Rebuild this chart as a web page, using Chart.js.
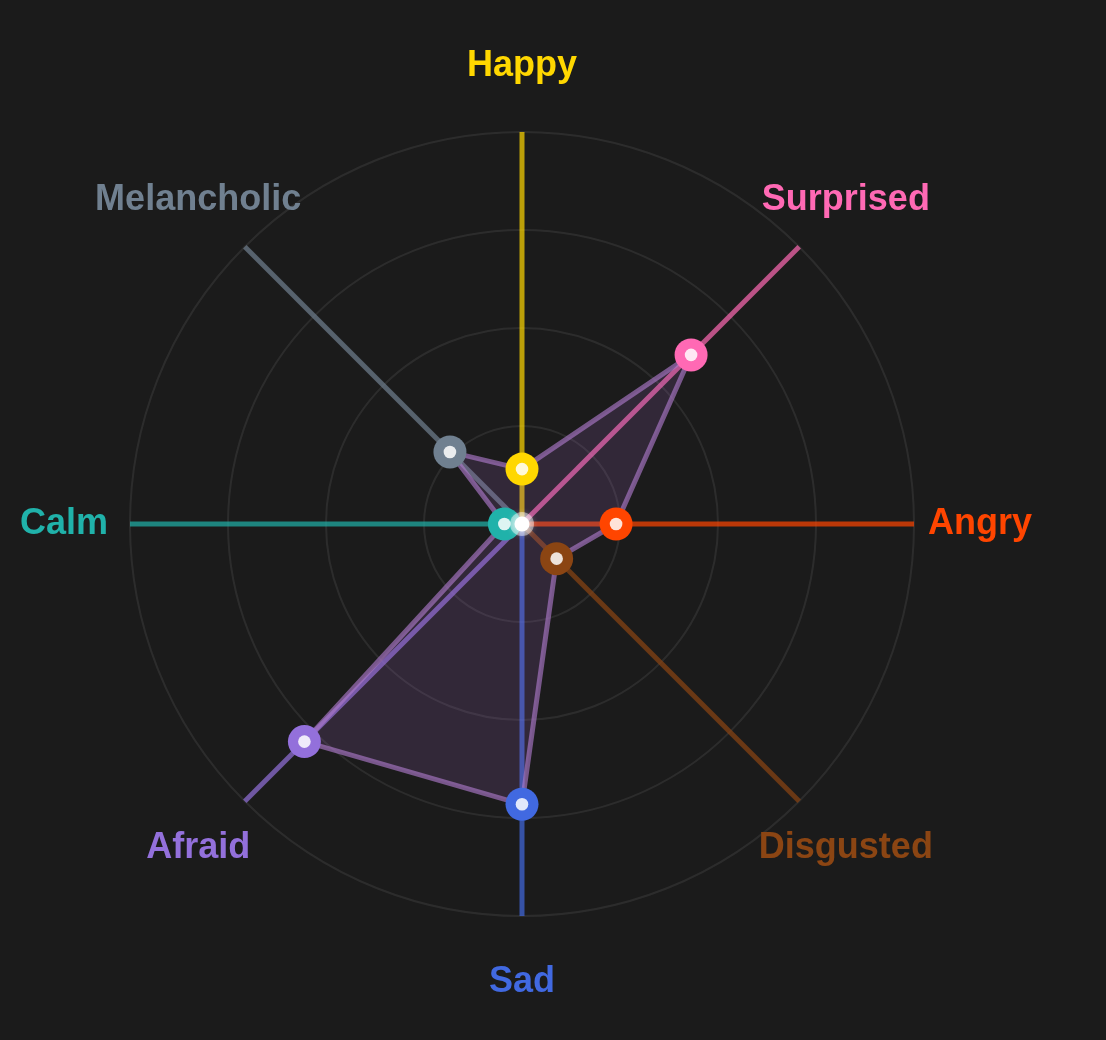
<!DOCTYPE html>
<html>
<head>
<meta charset="utf-8">
<script src="https://cdn.jsdelivr.net/npm/chart.js@4.4.1/dist/chart.umd.min.js"></script>
<style>
  html, body { margin: 0; padding: 0; background: #1b1b1b; }
  #wrap { width: 1106px; height: 1040px; position: relative; }
</style>
</head>
<body>
<div id="wrap"><canvas id="emociones"></canvas></div>
<script>
  // Datos
  const emociones = ['Happy', 'Surprised', 'Angry', 'Disgusted', 'Sad', 'Afraid', 'Calm', 'Melancholic'];
  const valores = [14, 61, 24, 12.5, 71.5, 78.5, 4.5, 26];
  const colores = ['#FFD700', '#FF69B4', '#FF4500', '#8B4513', '#4169E1', '#9370DB', '#20B2AA', '#708090'];
  const escalaMin = 0;
  const escalaMax = 100;
  const paso = 25;

  function conAlfa(hex, a) {
    const n = parseInt(hex.slice(1), 16);
    return `rgba(${(n >> 16) & 255}, ${(n >> 8) & 255}, ${n & 255}, ${a})`;
  }

  // Etiquetas centradas fuera del radar, con el color de cada eje
  const etiquetasPlugin = {
    id: 'etiquetas',
    afterDraw(chart) {
      const r = chart.scales.r;
      const ctx = chart.ctx;
      ctx.save();
      ctx.font = 'bold 36px "Liberation Sans", Arial, sans-serif';
      ctx.textAlign = 'center';
      ctx.textBaseline = 'middle';
      emociones.forEach((txt, i) => {
        const p = r.getPointPosition(i, r.drawingArea + 66);
        ctx.fillStyle = colores[i];
        ctx.fillText(txt, p.x, p.y);
      });
      ctx.restore();
    }
  };

  // Punto blanco brillante en el centro
  const centroPlugin = {
    id: 'centro',
    afterDatasetsDraw(chart) {
      const r = chart.scales.r;
      const ctx = chart.ctx;
      ctx.save();
      ctx.beginPath();
      ctx.arc(r.xCenter, r.yCenter, 12, 0, Math.PI * 2);
      ctx.fillStyle = 'rgba(255,255,255,0.45)';
      ctx.fill();
      ctx.shadowColor = 'rgba(255,255,255,1)';
      ctx.shadowBlur = 8;
      ctx.beginPath();
      ctx.arc(r.xCenter, r.yCenter, 7.5, 0, Math.PI * 2);
      ctx.fillStyle = '#ffffff';
      ctx.fill();
      ctx.restore();
    }
  };

  const ctx = document.getElementById('emociones');
  const chart = new Chart(ctx, {
    type: 'radar',
    data: {
      labels: emociones,
      datasets: [{
        label: 'Emociones',
        data: valores,
        order: 1,
        borderColor: 'rgba(170, 120, 200, 0.65)',
        backgroundColor: 'rgba(175, 110, 210, 0.16)',
        borderWidth: 5,
        fill: true,
        pointRadius: 16.5,
        pointHoverRadius: 16.5,
        pointBorderWidth: 0,
        pointBackgroundColor: colores
      }, {
        // centro claro de cada punto
        label: 'centros',
        data: valores,
        order: 0,
        showLine: false,
        fill: false,
        borderWidth: 0,
        pointRadius: 6.3,
        pointHoverRadius: 6.3,
        pointBorderWidth: 0,
        pointBackgroundColor: 'rgba(255,255,255,0.85)'
      }]
    },
    options: {
      responsive: true,
      maintainAspectRatio: false,
      animation: false,
      layout: { padding: { left: 130, right: 192, top: 132, bottom: 124 } },
      plugins: {
        legend: { display: false },
        tooltip: { enabled: false }
      },
      scales: {
        r: {
          min: escalaMin,
          max: escalaMax,
          ticks: { display: false, stepSize: paso },
          grid: { circular: true, color: 'rgba(255,255,255,0.08)', lineWidth: 2 },
          angleLines: {
            color: (c) => conAlfa(colores[c.index], 0.7),
            lineWidth: 5
          },
          pointLabels: { display: false }
        }
      }
    },
    plugins: [etiquetasPlugin, centroPlugin]
  });
</script>
</body>
</html>
